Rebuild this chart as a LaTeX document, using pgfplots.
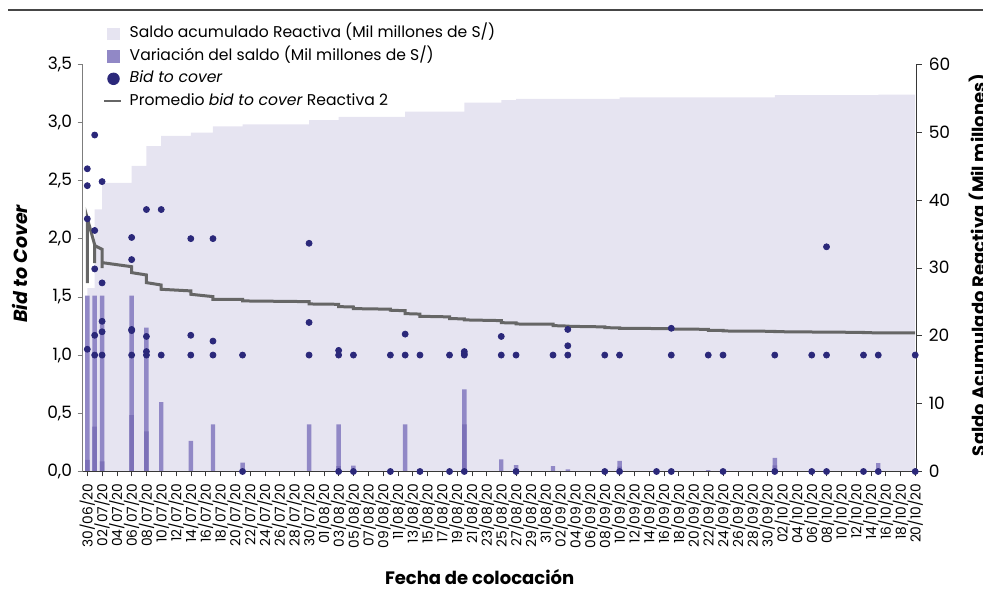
\documentclass[border=0pt]{standalone}
\usepackage{pgfplots}
\pgfplotsset{compat=1.18}
\usepackage{fontspec}
\setmainfont{Poppins}
\definecolor{lav}{RGB}{230,228,241}
\definecolor{barc}{RGB}{145,136,198}
\definecolor{bard}{RGB}{124,113,184}
\definecolor{navy}{RGB}{43,40,122}
\definecolor{avgc}{RGB}{102,102,102}
\definecolor{axl}{RGB}{125,125,125}
\definecolor{axd}{RGB}{55,55,55}
\definecolor{topr}{RGB}{70,70,70}
\begin{document}
\begin{tikzpicture}[x=1pt,y=1pt]
\useasboundingbox (0,0) rectangle (491.5,299);
\draw[topr, line width=0.8pt] (4,294) -- (491.5,294);
% ---------- right axis: area + bars ----------
\begin{axis}[
  at={(41.25pt,63.25pt)}, anchor=south west,
  width=417.1pt, height=203.75pt, scale only axis,
  xmin=-0.65, xmax=112.2, ymin=0, ymax=60,
  axis y line*=right, axis x line=none,
  axis line style={-, axd}, ytick style={axd},
  ytick={0,10,...,60},
  tick align=outside, major tick length=2.5pt,
  /pgf/number format/assume math mode=true,
  yticklabel style={font=\fontsize{8.5}{10}\selectfont, text=black},
  ylabel={\textbf{Saldo Acumulado Reactiva (Mil millones)}},
  ylabel style={at={(axis description cs:1.0747,0.507)}, anchor=center, font=\fontsize{9}{11}\selectfont},
]
\addplot[fill=lav, draw=none, const plot] coordinates {
(0,27) (1,38.6) (2,42.5) (6,45.0) (8,47.9) (10,49.4) (14,49.9) (17,50.8) (21,51.1)
(30,51.75) (34,52.2) (43,53.0) (51,54.3) (56,54.7) (58,54.85) (72,55.1) (93,55.4) (107,55.5) (112,55.5)
} \closedcycle;
\addplot[ybar, bar shift=0pt, bar width=0.6, fill=barc, draw=none] coordinates {
(0,25.9) (1,25.9) (2,25.9) (6,25.9) (8,21.2) (10,10.2) (14,4.5) (17,6.95) (21,1.3)
(30,6.95) (34,6.95) (36,0.85) (43,6.95) (51,12.1) (56,1.8) (58,0.95) (63,0.8) (65,0.3)
(72,1.55) (84,0.2) (93,2.0) (107,1.25)
};
\addplot[ybar, bar shift=0pt, bar width=0.6, fill=bard, draw=none] coordinates {
(0,1.7) (1,6.6) (2,1.5) (6,8.3) (8,5.9) (34,0.8) (51,6.95) (72,0.7) (93,0.9)
};
\end{axis}
% ---------- left axis: bid to cover ----------
\begin{axis}[
  at={(41.25pt,63.25pt)}, anchor=south west,
  width=417.1pt, height=203.75pt, scale only axis,
  xmin=-0.65, xmax=112.2, ymin=0, ymax=3.5,
  axis y line*=left, axis x line*=bottom,
  y axis line style={-, axl}, x axis line style={-, axd},
  ytick style={axl}, xtick style={axd},
  tick align=outside, major tick length=2.5pt,
  clip=false,
  ytick={0,0.5,...,3.5},
  /pgf/number format/.cd, use comma, fixed, fixed zerofill, precision=1, assume math mode=true,
  /pgfplots/.cd,
  yticklabel style={font=\fontsize{8.5}{10}\selectfont, xshift=0.8pt},
  xtick={0,2,...,112},
  xticklabels={30/06/20,02/07/20,04/07/20,06/07/20,08/07/20,10/07/20,12/07/20,14/07/20,16/07/20,18/07/20,20/07/20,22/07/20,24/07/20,26/07/20,28/07/20,30/07/20,01/08/20,03/08/20,05/08/20,07/08/20,09/08/20,11/08/20,13/08/20,15/08/20,17/08/20,19/08/20,21/08/20,23/08/20,25/08/20,27/08/20,29/08/20,31/08/20,02/09/20,04/09/20,06/09/20,08/09/20,10/09/20,12/09/20,14/09/20,16/09/20,18/09/20,20/09/20,22/09/20,24/09/20,26/09/20,28/09/20,30/09/20,02/10/20,04/10/20,06/10/20,08/10/20,10/10/20,12/10/20,14/10/20,16/10/20,18/10/20,20/10/20},
  xticklabel style={rotate=90, anchor=east, font=\fontsize{6.9}{8}\selectfont},
  xlabel={\textbf{Fecha de colocación}},
  xlabel style={at={(axis description cs:0.476,-0.259)}, anchor=center, font=\fontsize{9}{11}\selectfont},
  ylabel={\textbf{\textit{Bid to Cover}}},
  ylabel style={at={(axis description cs:-0.075,0.51)}, anchor=center, font=\fontsize{9.5}{11}\selectfont},
  legend style={at={(axis description cs:0.0246,1.0947)}, anchor=north west, draw=none, fill=none,
    inner sep=0pt, row sep=3.25pt, column sep=3.85pt,
    nodes={inner sep=0pt, text height=6pt, text depth=2pt},
    font=\fontsize{7.8}{9.5}\selectfont},
  legend cell align=left,
]
\addlegendimage{legend image code/.code={\fill[lav] (1.65pt,-2.9pt) rectangle (7.45pt,2.9pt);}}
\addlegendentry{Saldo acumulado Reactiva (Mil millones de S/)}
\addlegendimage{legend image code/.code={\fill[barc] (1.65pt,-2.9pt) rectangle (7.45pt,2.9pt);}}
\addlegendentry{Variación del saldo (Mil millones de S/)}
\addlegendimage{legend image code/.code={\fill[navy] (4.55pt,0pt) circle (2.9pt);}}
\addlegendentry{\textit{Bid to cover}}
\addlegendimage{legend image code/.code={\draw[avgc, line width=1pt] (0pt,0pt) -- (8.3pt,0pt);}}
\addlegendentry{Promedio \textit{bid to cover} Reactiva 2}
\addplot[forget plot, avgc, line width=1.5pt, mark=none] coordinates {
(0,1.617) (0,2.175) (1,1.946) (1,1.789) (1,1.94) (2,1.909) (2,1.746) (2,1.794)
(6,1.759) (6,1.708) (8,1.688) (8,1.622) (10,1.602) (10,1.565) (14,1.551) (14,1.522)
(17,1.502) (17,1.479) (21,1.479) (21,1.465) (30,1.459) (30,1.439) (34,1.436) (34,1.416)
(36,1.413) (36,1.399) (41,1.394) (41,1.385) (43,1.381) (43,1.356) (45,1.352) (45,1.333)
(49,1.328) (49,1.313) (51,1.311) (51,1.302) (56,1.296) (56,1.278) (58,1.276) (58,1.267)
(63,1.265) (63,1.253) (65,1.249) (65,1.247) (70,1.242) (70,1.235) (72,1.234) (72,1.23)
(79,1.227) (79,1.224) (84,1.221) (84,1.213) (86,1.212) (86,1.207) (93,1.204) (93,1.201)
(100,1.197) (105,1.195) (105,1.192) (112,1.19)
};
\addplot[forget plot, only marks, mark=*, mark size=1.5pt, navy, mark options={draw=navy, fill=navy}] coordinates {
(0,2.60) (0,2.455) (0,2.17) (0,1.05)
(1,2.89) (1,2.07) (1,1.74) (1,1.17) (1,1.0)
(2,2.49) (2,1.62) (2,1.29) (2,1.20) (2,1.0)
(6,2.01) (6,1.82) (6,1.22) (6,1.21) (6,1.0)
(8,2.25) (8,1.16) (8,1.03) (8,1.0)
(10,2.25) (10,1.0)
(14,2.0) (14,1.17) (14,1.0)
(17,2.0) (17,1.12) (17,1.0)
(21,1.0) (21,0)
(30,1.96) (30,1.28) (30,1.0)
(34,1.04) (34,1.0) (34,0)
(36,1.0) (36,0)
(41,1.0) (41,0)
(43,1.18) (43,1.0)
(45,1.0) (45,0)
(49,1.0) (49,0)
(51,1.03) (51,1.01) (51,1.0) (51,0)
(56,1.16) (56,1.0)
(58,1.0) (58,0)
(63,1.0)
(65,1.22) (65,1.08) (65,1.0)
(70,1.0) (70,0)
(72,1.0) (72,0)
(77,0)
(79,1.23) (79,1.0) (79,0)
(84,1.0)
(86,1.0) (86,0)
(93,1.0) (93,0)
(98,1.0) (98,0)
(100,1.93) (100,1.0) (100,0)
(105,1.0) (105,0)
(107,1.0) (107,0)
(112,1.0) (112,0)
};
\end{axis}
\end{tikzpicture}
\end{document}
